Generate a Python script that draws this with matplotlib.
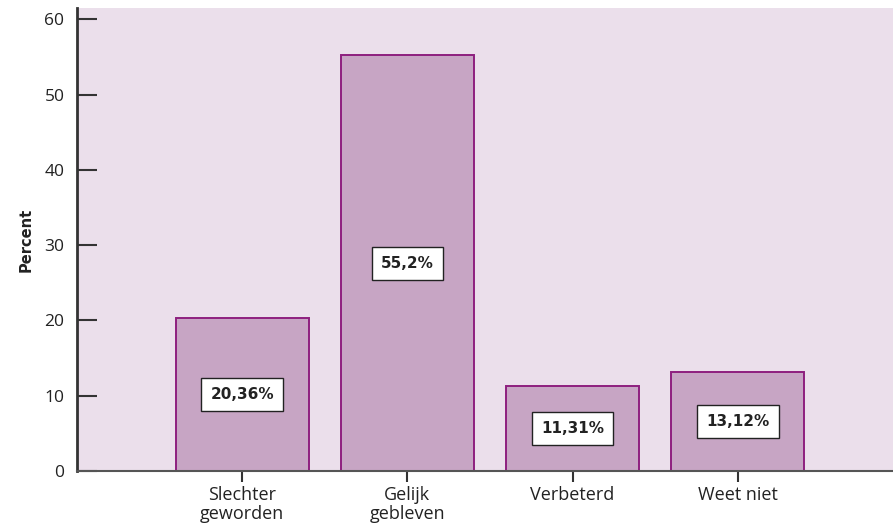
import numpy as np
import matplotlib.pyplot as plt

categories = ["Slechter\ngeworden", "Gelijk\ngebleven", "Verbeterd", "Weet niet"]
values = [20.36, 55.2, 11.31, 13.12]
labels = ["20,36%", "55,2%", "11,31%", "13,12%"]

plt.rcParams['font.family'] = ['Open Sans', 'DejaVu Sans']
bold_font = ['DejaVu Sans']

fig = plt.figure(figsize=(8.93, 5.32), dpi=100)
ax = fig.add_axes([0.0862, 0.1147, 0.9138, 0.8703])
ax.set_facecolor('#ebdfeb')

x = np.arange(len(categories))
ax.bar(x, values, width=0.806, color='#c7a5c4', edgecolor='#8e1f7f', linewidth=1.4, zorder=2)

# value labels in white boxes halfway up each bar
for xi, v, lab in zip(x, values, labels):
    ax.text(xi, v / 2, lab, ha='center', va='center', fontsize=11, fontweight='bold',
            family=bold_font, color='#222222', zorder=3,
            bbox=dict(boxstyle='square,pad=0.6', facecolor='white', edgecolor='#222222', linewidth=1))

ax.set_xlim(-1.0, 3.94)
ax.set_ylim(0, 61.5)
ax.set_yticks([0, 10, 20, 30, 40, 50, 60])
ax.set_xticks(x)
ax.set_xticklabels(categories, fontsize=13, color='#222222', linespacing=1.05)

ax.tick_params(axis='y', direction='in', length=14.5, width=1.5, color='#333333',
               labelsize=12.5, labelcolor='#222222', pad=9)
ax.tick_params(axis='x', direction='out', length=8, width=1.5, color='#333333', pad=3)

for s in ['top', 'right']:
    ax.spines[s].set_visible(False)
ax.spines['left'].set_color('#333333')
ax.spines['left'].set_linewidth(2)
ax.spines['bottom'].set_color('#555555')
ax.spines['bottom'].set_linewidth(1.5)
ax.spines['left'].set_zorder(4)
ax.spines['bottom'].set_zorder(4)

ax.set_ylabel('Percent', fontsize=10.5, fontweight='bold', family=bold_font,
              color='#222222', labelpad=8)

fig.savefig('out.png', dpi=100)
